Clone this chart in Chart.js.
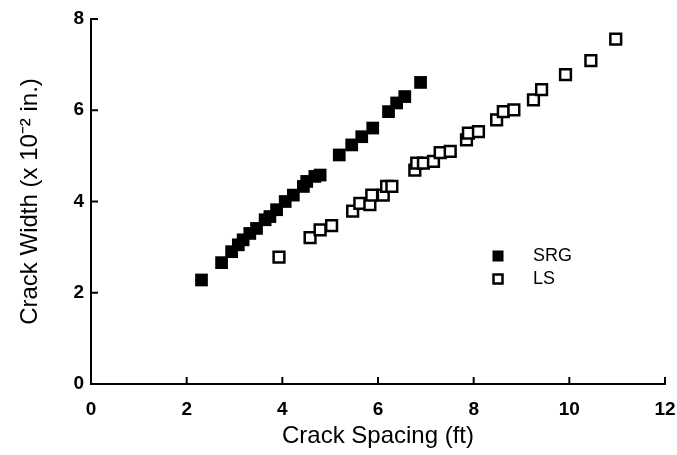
<!DOCTYPE html>
<html>
<head>
<meta charset="utf-8">
<script src="https://cdn.jsdelivr.net/npm/chart.js@4"></script>
<style>
  html, body { margin: 0; padding: 0; background: #fff; }
  #box { width: 677px; height: 455px; }
</style>
</head>
<body>
<div id="box"><canvas id="grafico"></canvas></div>
<script>
// dados
const srgX = [2.31, 2.73, 2.94, 3.08, 3.18, 3.32, 3.46, 3.64, 3.74, 3.88, 4.06, 4.23,
              4.44, 4.51, 4.68, 4.79, 5.19, 5.45, 5.66, 5.89, 6.22, 6.39, 6.56, 6.89];
const srgY = [2.28, 2.66, 2.90, 3.05, 3.16, 3.30, 3.41, 3.60, 3.67, 3.82, 4.00, 4.14,
              4.33, 4.44, 4.55, 4.58, 5.02, 5.24, 5.42, 5.61, 5.97, 6.16, 6.30, 6.61];
const lsX = [3.93, 4.58, 4.79, 5.03, 5.47, 5.62, 5.83, 5.87, 6.11, 6.18, 6.29, 6.77, 6.81,
             6.95, 7.16, 7.30, 7.51, 7.85, 7.89, 8.10, 8.48, 8.62, 8.84, 9.25, 9.42,
             9.92, 10.45, 10.97];
const lsY = [2.78, 3.21, 3.38, 3.47, 3.79, 3.96, 3.93, 4.14, 4.14, 4.33, 4.33, 4.69, 4.84,
             4.84, 4.88, 5.07, 5.10, 5.35, 5.50, 5.53, 5.79, 5.97, 6.01, 6.23, 6.45,
             6.78, 7.09, 7.56];
const xTicks = [0, 2, 4, 6, 8, 10, 12];
const yTicks = [0, 2, 4, 6, 8];
const nomes = ['SRG', 'LS'];

const fonte = '"Liberation Sans", Arial, sans-serif';
const pontos = (xs, ys) => xs.map((x, i) => ({ x: x, y: ys[i] }));

// ticks para dentro + legenda dentro da area do grafico
const extras = {
  id: 'extras',
  afterDraw(chart) {
    const ctx = chart.ctx;
    const xs = chart.scales.x, ys = chart.scales.y;
    const area = chart.chartArea;
    ctx.save();
    ctx.strokeStyle = '#000';
    ctx.lineWidth = 2;
    xTicks.forEach(v => {
      const px = xs.getPixelForValue(v);
      ctx.beginPath();
      ctx.moveTo(px, area.bottom);
      ctx.lineTo(px, area.bottom - 7);
      ctx.stroke();
    });
    yTicks.forEach(v => {
      const py = ys.getPixelForValue(v);
      ctx.beginPath();
      ctx.moveTo(area.left, py);
      ctx.lineTo(area.left + 7, py);
      ctx.stroke();
    });

    // legenda
    const lx = 498, ly = [256, 279];
    ctx.font = '18px ' + fonte;
    ctx.textBaseline = 'middle';
    ctx.fillStyle = '#000';
    chart.data.datasets.forEach((ds, i) => {
      if (ds.backgroundColor === '#000') {
        ctx.fillRect(lx - 5.5, ly[i] - 5.5, 11, 11);
      } else {
        ctx.lineWidth = 2.5;
        ctx.strokeRect(lx - 4.5, ly[i] - 4.5, 9, 9);
      }
      ctx.fillText(ds.label, 533, ly[i]);
    });
    ctx.restore();
  }
};

new Chart(document.getElementById('grafico'), {
  type: 'scatter',
  data: {
    datasets: [{
      label: nomes[0],
      data: pontos(srgX, srgY),
      pointStyle: 'rect',
      pointRadius: 9,
      backgroundColor: '#000',
      borderColor: '#000',
      borderWidth: 0
    }, {
      label: nomes[1],
      data: pontos(lsX, lsY),
      pointStyle: 'rect',
      pointRadius: 7.6,
      backgroundColor: '#fff',
      borderColor: '#000',
      borderWidth: 2.5
    }]
  },
  options: {
    responsive: true,
    maintainAspectRatio: false,
    animation: false,
    layout: { padding: { top: 19, right: 12, left: 0, bottom: 0 } },
    plugins: {
      legend: { display: false },
      tooltip: { enabled: false }
    },
    scales: {
      x: {
        type: 'linear',
        min: 0, max: 12,
        afterBuildTicks: s => { s.ticks = xTicks.map(v => ({ value: v })); },
        afterFit: s => { s.height = 71; s.paddingLeft = 0; s.paddingRight = 0; },
        grid: { display: false, drawTicks: false },
        border: { display: true, color: '#000', width: 2 },
        ticks: {
          color: '#000',
          padding: 14,
          font: { family: fonte, size: 19, weight: 'bold' }
        },
        title: {
          display: true,
          text: 'Crack Spacing (ft)',
          color: '#000',
          padding: { top: 0 },
          font: { family: fonte, size: 24 }
        }
      },
      y: {
        type: 'linear',
        min: 0, max: 8,
        afterBuildTicks: s => { s.ticks = yTicks.map(v => ({ value: v })); },
        afterFit: s => { s.width = 91; },
        grid: { display: false, drawTicks: false },
        border: { display: true, color: '#000', width: 2 },
        ticks: {
          color: '#000',
          padding: 7,
          font: { family: fonte, size: 19, weight: 'bold' }
        },
        title: {
          display: true,
          text: 'Crack Width (x 10\u207B\u00B2 in.)',
          color: '#000',
          padding: { top: 16 },
          font: { family: fonte, size: 24 }
        }
      }
    }
  },
  plugins: [extras]
});
</script>
</body>
</html>
